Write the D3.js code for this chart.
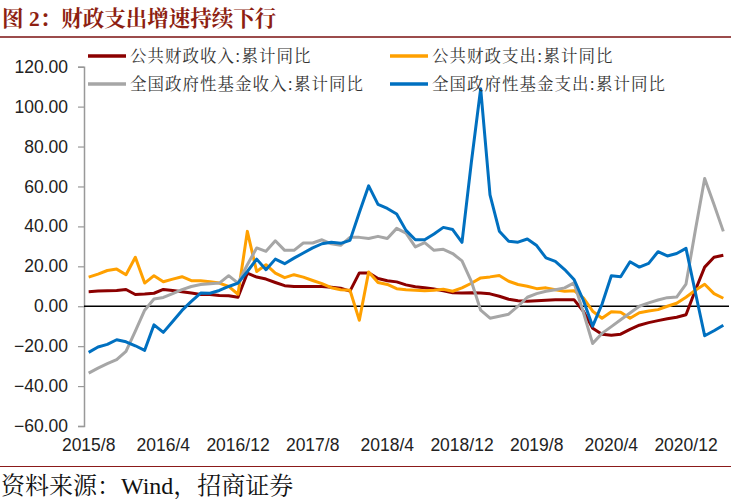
<!DOCTYPE html>
<html>
<head>
<meta charset="utf-8">
<script src="https://cdn.jsdelivr.net/npm/d3@7"></script>
<style>
  html, body { margin: 0; padding: 0; background: #fff; }
  svg { display: block; }
</style>
</head>
<body>
<svg id="chart" width="731" height="499"></svg>
<script>
// ---------------- DATA ----------------
const categories = [
  "2015/8","2015/9","2015/10","2015/11","2015/12",
  "2016/1","2016/2","2016/3","2016/4","2016/5","2016/6","2016/7","2016/8","2016/9","2016/10","2016/11","2016/12",
  "2017/1","2017/2","2017/3","2017/4","2017/5","2017/6","2017/7","2017/8","2017/9","2017/10","2017/11","2017/12",
  "2018/1","2018/2","2018/3","2018/4","2018/5","2018/6","2018/7","2018/8","2018/9","2018/10","2018/11","2018/12",
  "2019/1","2019/2","2019/3","2019/4","2019/5","2019/6","2019/7","2019/8","2019/9","2019/10","2019/11","2019/12",
  "2020/1","2020/2","2020/3","2020/4","2020/5","2020/6","2020/7","2020/8","2020/9","2020/10","2020/11","2020/12",
  "2021/1","2021/2","2021/3","2021/4"
];
const tickLabels = ["2015/8","2016/4","2016/12","2017/8","2018/4","2018/12","2019/8","2020/4","2020/12"];
const yTicks = [-60, -40, -20, 0, 20, 40, 60, 80, 100, 120];
const seriesNames = ["公共财政收入:累计同比", "公共财政支出:累计同比", "全国政府性基金收入:累计同比", "全国政府性基金支出:累计同比"];

const publicRevenue = [
  7.3,7.6,7.8,7.9,8.4,5.9,6.1,6.5,8.4,7.9,
  7.3,6.6,5.9,5.9,5.4,5.3,4.5,16.6,14.6,13.6,
  11.9,10.3,9.9,9.9,9.9,9.9,9.5,9.0,7.6,16.7,
  16.7,13.9,12.8,12.2,10.7,9.8,9.3,8.6,7.8,6.8,
  6.6,6.7,6.6,6.2,5.0,3.5,2.8,2.5,2.8,3.0,
  3.3,3.3,3.3,-2.5,-11,-14,-14.5,-14,-11.6,-9.5,
  -8.2,-7.2,-6.3,-5.5,-4.3,8,19.6,24.5,25.5
];
const publicExpenditure = [
  14.6,16.1,17.9,18.6,15.8,24.5,11.6,15.3,12.3,13.6,
  14.8,12.8,12.8,12.3,11.6,9.9,6.0,37.5,17.4,20.8,
  16.6,14.3,15.8,14.6,12.9,11.3,9.3,8.3,8.0,-7.0,
  17.2,11.9,10.9,8.8,8.3,8.0,7.7,8.0,8.5,7.5,
  9.2,11.5,14.2,14.7,15.4,12.5,10.9,10.0,8.8,9.2,
  8.3,7.5,7.8,4.2,-2.5,-6,-2.8,-3,-6,-3.3,
  -2.4,-1.7,0,1.5,4.5,8,11,6.3,4
];
const fundRevenue = [
  -33.5,-31,-28.8,-26.8,-22.6,-12.5,-2,3.6,4.4,6.3,
  8.3,9.9,10.9,11.3,11.6,15.3,11.6,20.8,29.2,27.5,
  32.8,28,28,31.7,31.7,33.3,31.3,30.5,34.5,34.5,
  33.9,35,33.9,39,36.6,29.7,31.9,28,28.5,26.4,
  22.7,12.5,-2,-6,-5,-4,0,4.5,6.3,7.5,
  8.3,9.2,11.7,-3,-18.7,-13.6,-10.2,-6.8,-3.4,0,
  1.7,3.1,4.3,4.6,11.1,38,64,51,37.5
];
const fundExpenditure = [
  -23.1,-20.4,-19.1,-16.8,-17.8,-19.8,-22.1,-9.3,-13.1,-7.6,
  -2.1,2.4,6.6,6.5,7.9,9.9,11.6,17.4,23.6,18.3,
  23.6,21.3,24.1,26.7,29.2,31.3,32,31.5,33,47,
  60.3,51,49,46.2,38,33.3,33.3,36.2,39.5,38.4,
  32,72,109,55.8,37.6,32.6,32.1,33.7,30.4,24.2,
  22.5,18.4,13.4,3,-10,1,15.3,14.8,22.3,19.6,
  21.5,27.3,25.2,26.4,29,7,-14.8,-12.3,-9.5
];
const seriesColors = ["#8B0000", "#FFA000", "#A6A6A6", "#0070C0"];

// ---------------- CHART ----------------
const svg = d3.select("#chart");
const W = 731, H = 499;
const plot = { left: 84, right: 728, top: 66.7, bottom: 426 };

const x = d3.scaleBand().domain(categories).range([plot.left, plot.right]).paddingInner(0).paddingOuter(0);
const xc = c => x(c) + x.bandwidth() / 2;
const y = d3.scaleLinear().domain([-60, 120]).range([plot.bottom, plot.top]);

// Title
svg.append("text")
  .attr("x", 2).attr("y", 26)
  .attr("fill", "#8E1F12")
  .attr("font-family", "'Liberation Serif', 'Noto Serif CJK SC', 'Noto Sans CJK SC', serif")
  .attr("font-weight", "bold")
  .attr("font-size", 21.5)
  .text("图 2：财政支出增速持续下行");

svg.append("line")
  .attr("x1", 0).attr("x2", W).attr("y1", 37).attr("y2", 37)
  .attr("stroke", "#7B1010").attr("stroke-width", 1.6);

// Y axis
const yAxis = d3.axisLeft(y).tickValues(yTicks).tickFormat(d3.format(".2f")).tickSize(6).tickPadding(10);
const gy = svg.append("g").attr("transform", `translate(${plot.left},0)`).call(yAxis);
gy.select(".domain").attr("stroke", "#999").attr("stroke-width", 1.5);
gy.selectAll(".tick line").attr("stroke", "#999").attr("stroke-width", 1.2);
gy.selectAll(".tick text")
  .attr("font-family", "'Liberation Sans', Arial, sans-serif")
  .attr("font-size", 17.5)
  .attr("fill", "#222");

// Zero line (category axis)
svg.append("line")
  .attr("x1", plot.left).attr("x2", 729)
  .attr("y1", y(0)).attr("y2", y(0))
  .attr("stroke", "#000").attr("stroke-width", 1.5);

// X labels (low position)
const xAxis = d3.axisBottom(x).tickValues(tickLabels).tickSize(0).tickPadding(13);
const gx = svg.append("g").attr("transform", `translate(0,${plot.bottom})`).call(xAxis);
gx.select(".domain").remove();
gx.selectAll(".tick text")
  .attr("font-family", "'Liberation Sans', Arial, sans-serif")
  .attr("font-size", 17.5)
  .attr("fill", "#222");

// Lines
const allSeries = [publicRevenue, publicExpenditure, fundRevenue, fundExpenditure];
const line = d3.line().x((d, i) => xc(categories[i])).y(d => y(d));
allSeries.forEach((vals, k) => {
  svg.append("path")
    .datum(vals)
    .attr("fill", "none")
    .attr("stroke", seriesColors[k])
    .attr("stroke-width", 3)
    .attr("stroke-linejoin", "round")
    .attr("d", line);
});

// Legend
const legendPos = [
  { x: 88, y: 56 }, { x: 390, y: 56 },
  { x: 88, y: 84 }, { x: 390, y: 84 }
];
seriesNames.forEach((name, k) => {
  const p = legendPos[k];
  svg.append("line")
    .attr("x1", p.x).attr("x2", p.x + 38)
    .attr("y1", p.y).attr("y2", p.y)
    .attr("stroke", seriesColors[k]).attr("stroke-width", 3.5);
  svg.append("text")
    .attr("x", p.x + 42).attr("y", p.y)
    .attr("dy", "0.36em")
    .attr("font-family", "'Noto Serif CJK SC', 'Noto Sans CJK SC', sans-serif")
    .attr("font-size", 16.5)
    .attr("letter-spacing", 1)
    .attr("fill", "#333")
    .text(name);
});

// Footer
svg.append("line")
  .attr("x1", 0).attr("x2", W).attr("y1", 466.5).attr("y2", 466.5)
  .attr("stroke", "#8B1A1A").attr("stroke-width", 1.2);
svg.append("text")
  .attr("x", 1).attr("y", 494)
  .attr("font-family", "'Liberation Serif', 'Noto Serif CJK SC', 'Noto Sans CJK SC', serif")
  .attr("font-size", 24)
  .attr("fill", "#111")
  .text("资料来源：Wind，招商证券");
</script>
</body>
</html>
